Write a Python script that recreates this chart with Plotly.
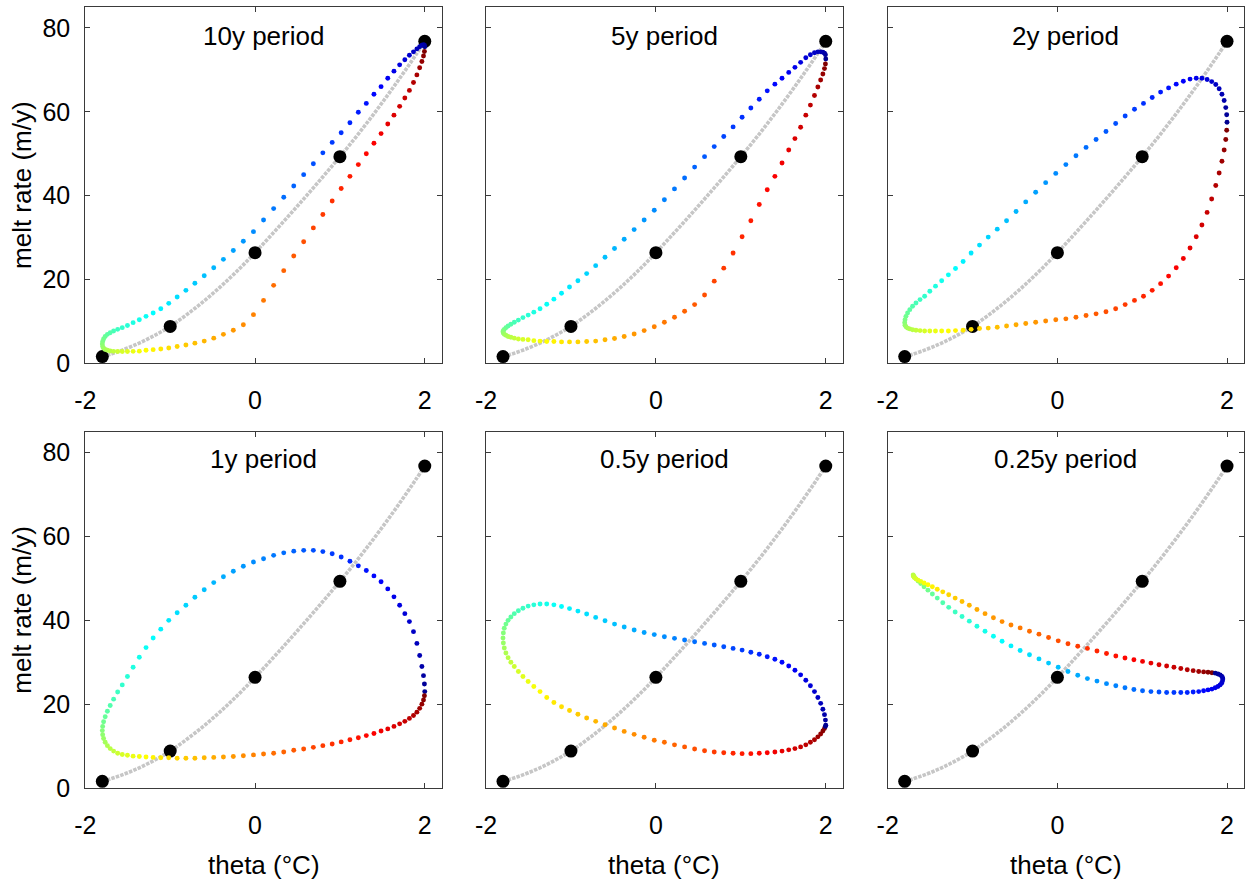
import plotly.graph_objects as go

# ---------------- data ----------------
periods = ["10y period", "5y period", "2y period", "1y period", "0.5y period", "0.25y period"]

# steady-state melt-rate curve (grey)
theta_ss = [-1.8, -1.7, -1.6, -1.5, -1.4, -1.3, -1.2, -1.1, -1.0, -0.9, -0.8, -0.7, -0.6,
            -0.5, -0.4, -0.3, -0.2, -0.1, 0.0, 0.1, 0.2, 0.3, 0.4, 0.5, 0.6, 0.7, 0.8,
            0.9, 1.0, 1.1, 1.2, 1.3, 1.4, 1.5, 1.6, 1.7, 1.8, 1.9, 2.0]
melt_ss = [1.6, 2.19, 2.88, 3.64, 4.50, 5.44, 6.48, 7.59, 8.8, 10.20, 11.68, 13.24, 14.88,
           16.6, 18.4, 20.28, 22.24, 24.28, 26.4, 28.57, 30.77, 33.0, 35.25, 37.53, 39.83,
           42.16, 44.51, 46.89, 49.3, 51.75, 54.27, 56.86, 59.51, 62.23, 65.01, 67.86,
           70.77, 73.75, 76.8]

# black reference points
theta_pts = [-1.8, -1.0, 0.0, 1.0, 2.0]
melt_pts = [1.6, 8.8, 26.4, 49.3, 76.8]

# theta along the loops (periods 10y ... 0.5y)
theta_loop = [2.000, 1.996, 1.985, 1.966, 1.940, 1.907, 1.867, 1.819, 1.765, 1.704,
              1.637, 1.564, 1.485, 1.401, 1.311, 1.217, 1.118, 1.015, 0.909, 0.799,
              0.687, 0.573, 0.456, 0.338, 0.219, 0.100, -0.019, -0.138, -0.256, -0.373,
              -0.487, -0.599, -0.709, -0.815, -0.918, -1.017, -1.111, -1.201, -1.285, -1.364,
              -1.437, -1.504, -1.565, -1.619, -1.667, -1.707, -1.740, -1.766, -1.785, -1.796,
              -1.800, -1.796, -1.785, -1.766, -1.740, -1.707, -1.667, -1.619, -1.565, -1.504,
              -1.437, -1.364, -1.285, -1.201, -1.111, -1.017, -0.918, -0.815, -0.709, -0.599,
              -0.487, -0.373, -0.256, -0.138, -0.019, 0.100, 0.219, 0.338, 0.456, 0.573,
              0.687, 0.799, 0.909, 1.015, 1.118, 1.217, 1.311, 1.401, 1.485, 1.564,
              1.637, 1.704, 1.765, 1.819, 1.867, 1.907, 1.940, 1.966, 1.985, 1.996]

# theta along the 0.25y loop (slightly damped)
theta_loop_q = [1.950, 1.946, 1.936, 1.918, 1.893, 1.861, 1.822, 1.776, 1.724, 1.666,
                1.601, 1.531, 1.455, 1.374, 1.288, 1.198, 1.103, 1.004, 0.902, 0.797,
                0.689, 0.579, 0.467, 0.354, 0.240, 0.125, 0.010, -0.104, -0.217, -0.329,
                -0.439, -0.547, -0.652, -0.754, -0.853, -0.948, -1.038, -1.124, -1.205, -1.281,
                -1.351, -1.416, -1.474, -1.526, -1.572, -1.611, -1.643, -1.668, -1.686, -1.696,
                -1.700, -1.696, -1.686, -1.668, -1.643, -1.611, -1.572, -1.526, -1.474, -1.416,
                -1.351, -1.281, -1.205, -1.124, -1.038, -0.948, -0.853, -0.754, -0.652, -0.547,
                -0.439, -0.329, -0.217, -0.104, 0.010, 0.125, 0.240, 0.354, 0.467, 0.579,
                0.689, 0.797, 0.902, 1.004, 1.103, 1.198, 1.288, 1.374, 1.455, 1.531,
                1.601, 1.666, 1.724, 1.776, 1.822, 1.861, 1.893, 1.918, 1.936, 1.946]

melt_10y = [75.5, 75.9, 76.0, 75.9, 75.5, 75.0, 74.3, 73.5, 72.4, 71.2,
            69.7, 68.0, 66.0, 64.2, 62.0, 59.9, 57.4, 55.0, 52.7, 50.2,
            47.6, 45.0, 42.3, 39.6, 36.9, 34.2, 31.4, 29.1, 26.9, 24.8,
            22.8, 20.9, 19.1, 17.4, 15.8, 14.3, 13.0, 12.0, 11.2, 10.4,
            9.7, 9.0, 8.5, 8.1, 7.7, 7.3, 6.9, 6.4, 5.8, 5.2,
            4.6, 4.0, 3.6, 3.3, 3.1, 2.95, 2.85, 2.8, 2.8, 2.8,
            2.85, 2.9, 3.1, 3.25, 3.4, 3.65, 4.0, 4.35, 4.8, 5.3,
            6.0, 6.9, 7.9, 9.2, 11.6, 15.0, 18.6, 22.1, 25.6, 29.0,
            32.3, 35.5, 38.7, 41.7, 44.6, 47.4, 50.0, 52.5, 54.8, 57.1,
            59.2, 61.3, 63.3, 65.1, 67.0, 68.8, 70.5, 72.0, 73.3, 74.4]

melt_5y = [72.6, 73.6, 74.0, 74.2, 74.3, 74.3, 74.1, 73.6, 72.9, 71.8,
           70.6, 69.4, 68.0, 66.6, 65.0, 63.0, 60.9, 58.7, 56.4, 54.1,
           51.7, 49.3, 46.8, 44.2, 41.6, 39.0, 36.5, 34.2, 31.9, 29.6,
           27.4, 25.3, 23.3, 21.4, 19.7, 18.2, 16.7, 15.3, 14.1, 13.0,
           12.2, 11.5, 10.9, 10.3, 9.8, 9.3, 8.9, 8.5, 8.1, 7.8,
           7.5, 7.2, 6.9, 6.7, 6.4, 6.2, 6.0, 5.8, 5.7, 5.6,
           5.4, 5.3, 5.2, 5.2, 5.1, 5.1, 5.1, 5.2, 5.3, 5.6,
           5.9, 6.4, 7.0, 7.8, 8.7, 9.8, 11.0, 12.4, 14.0, 16.3,
           19.6, 22.7, 26.3, 30.2, 34.0, 37.9, 41.4, 44.6, 47.8, 50.9,
           53.6, 56.3, 59.2, 61.6, 63.9, 65.9, 67.6, 69.0, 70.3, 71.4]

melt_2y = [57.5, 59.3, 61.0, 62.7, 64.2, 65.5, 66.5, 67.2, 67.7, 68.0,
           68.0, 67.8, 67.3, 66.6, 65.7, 64.7, 63.4, 62.0, 60.6, 59.0,
           57.2, 55.3, 53.4, 51.5, 49.5, 47.4, 45.3, 43.1, 40.8, 38.5,
           36.2, 34.0, 32.0, 30.1, 28.2, 26.3, 24.3, 22.6, 21.1, 19.7,
           18.4, 17.2, 16.0, 15.2, 14.4, 13.6, 12.8, 12.0, 11.2, 10.4,
           9.7, 9.1, 8.7, 8.4, 8.2, 8.0, 7.9, 7.8, 7.7, 7.7,
           7.7, 7.7, 7.7, 7.8, 7.9, 8.1, 8.3, 8.4, 8.6, 8.9,
           9.2, 9.5, 9.8, 10.1, 10.4, 10.6, 11.0, 11.4, 11.8, 12.3,
           13.0, 14.0, 15.0, 16.0, 17.4, 19.0, 20.8, 22.8, 25.0, 27.5,
           30.2, 33.0, 36.0, 39.2, 42.4, 45.4, 48.2, 50.9, 53.4, 55.6]

melt_1y = [23.0, 24.8, 26.8, 29.0, 31.6, 34.5, 37.3, 39.7, 41.6, 43.6,
           45.6, 47.5, 49.2, 50.6, 51.9, 53.0, 54.1, 55.1, 55.9, 56.4,
           56.7, 56.7, 56.5, 56.1, 55.5, 54.7, 53.9, 52.9, 51.7, 50.4,
           49.0, 47.3, 45.5, 43.6, 41.8, 40.0, 37.9, 35.8, 33.5, 31.2,
           28.8, 26.6, 24.6, 22.9, 21.2, 19.7, 18.3, 17.0, 15.8, 14.7,
           13.7, 12.7, 11.8, 10.9, 10.1, 9.4, 8.8, 8.3, 8.0, 7.8,
           7.6, 7.5, 7.4, 7.3, 7.2, 7.2, 7.1, 7.1, 7.1, 7.2,
           7.3, 7.4, 7.5, 7.7, 7.9, 8.1, 8.3, 8.6, 9.0, 9.3,
           9.7, 10.1, 10.5, 11.0, 11.5, 12.0, 12.5, 13.0, 13.6, 14.1,
           14.7, 15.3, 15.9, 16.6, 17.3, 18.1, 19.0, 20.0, 21.0, 22.0]

melt_05y = [15.0, 16.2, 17.5, 18.8, 20.2, 21.6, 23.0, 24.4, 25.7, 27.0,
            28.1, 29.1, 30.0, 30.7, 31.3, 31.9, 32.4, 32.9, 33.3, 33.7,
            34.1, 34.5, 34.9, 35.3, 35.7, 36.1, 36.6, 37.1, 37.7, 38.4,
            39.1, 39.9, 40.7, 41.5, 42.2, 42.8, 43.3, 43.7, 43.9, 43.9,
            43.7, 43.4, 42.9, 42.3, 41.6, 40.8, 40.0, 39.1, 38.1, 37.0,
            35.8, 34.6, 33.4, 32.2, 31.1, 30.0, 29.0, 27.8, 26.6, 25.4,
            24.2, 23.0, 21.6, 20.4, 19.4, 18.5, 17.6, 16.7, 15.9, 15.1,
            14.3, 13.5, 12.8, 12.1, 11.4, 10.9, 10.3, 9.8, 9.3, 8.9,
            8.6, 8.4, 8.3, 8.2, 8.2, 8.3, 8.4, 8.6, 8.8, 9.1,
            9.4, 9.8, 10.3, 10.9, 11.5, 12.2, 12.9, 13.6, 14.2, 14.7]

melt_025y = [26.0, 25.5, 25.0, 24.6, 24.2, 23.9, 23.6, 23.4, 23.2, 23.0,
             22.9, 22.8, 22.8, 22.8, 22.8, 22.9, 23.0, 23.2, 23.5, 23.9,
             24.4, 24.9, 25.5, 26.1, 26.9, 27.8, 28.8, 29.8, 30.8, 31.8,
             32.8, 33.9, 35.0, 36.2, 37.4, 38.6, 39.8, 40.9, 42.0, 43.1,
             44.2, 45.3, 46.3, 47.2, 48.0, 48.8, 49.4, 49.9, 50.3, 50.6,
             50.8, 50.5, 50.2, 49.9, 49.6, 49.3, 48.9, 48.5, 48.0, 47.4,
             46.8, 46.1, 45.3, 44.5, 43.6, 42.6, 41.6, 40.6, 39.7, 38.9,
             38.2, 37.4, 36.7, 35.9, 35.1, 34.4, 33.8, 33.3, 32.7, 32.1,
             31.5, 31.0, 30.6, 30.2, 29.8, 29.4, 29.1, 28.8, 28.5, 28.2,
             28.0, 27.8, 27.7, 27.6, 27.5, 27.4, 27.2, 27.0, 26.7, 26.4]

loops = [(theta_loop, melt_10y), (theta_loop, melt_5y), (theta_loop, melt_2y),
         (theta_loop, melt_1y), (theta_loop, melt_05y), (theta_loop_q, melt_025y)]

# phase (in samples) by which the colour cycle leads theta in each panel
phase_lead = [0, 0, 0, 0, 1, 5]

x_ticks = [-2, 0, 2]
x_ticktext = ["-2", "0", "2"]
y_ticks = [0, 20, 40, 60, 80]

# ---------------- styling ----------------
FONT = "Liberation Sans, Arial, sans-serif"
JET = [[0.0, "rgb(0,0,143)"], [0.125, "rgb(0,0,255)"], [0.375, "rgb(0,255,255)"],
       [0.625, "rgb(255,255,0)"], [0.875, "rgb(255,0,0)"], [1.0, "rgb(128,0,0)"]]
AXCOL = "#3a3a3a"
TICK_SIZE = 25
TEXT_SIZE = 26

x_domains = [[0.0003, 0.3078], [0.3460, 0.6538], [0.6926, 1.0]]
y_domains = [[0.5438, 1.0], [0.0, 0.4562]]

fig = go.Figure()
layout = dict(
    width=1245, height=879,
    margin=dict(l=85, r=1, t=7, b=91),
    paper_bgcolor="white", plot_bgcolor="white",
    showlegend=False,
    font=dict(family=FONT, size=TICK_SIZE, color="black"),
    annotations=[],
)

for i in range(6):
    row, col = divmod(i, 3)
    n = i + 1
    xa = "x" if n == 1 else f"x{n}"
    ya = "y" if n == 1 else f"y{n}"
    th, me = loops[i]
    npts = len(me)
    cidx = [(k + phase_lead[i]) % npts for k in range(npts)]

    fig.add_trace(go.Scatter(
        x=theta_ss, y=melt_ss, mode="lines", xaxis=xa, yaxis=ya,
        line=dict(color="#c6c6c6", width=3.6, dash="3.5px,1.2px", shape="spline"),
        hoverinfo="skip"))
    fig.add_trace(go.Scatter(
        x=theta_pts, y=melt_pts, mode="markers", xaxis=xa, yaxis=ya,
        marker=dict(color="black", size=13), hoverinfo="skip"))
    fig.add_trace(go.Scatter(
        x=th, y=me, mode="markers", xaxis=xa, yaxis=ya,
        marker=dict(color=cidx, colorscale=JET, cmin=0, cmax=npts - 1, size=4.9),
        hoverinfo="skip"))

    xkey = "xaxis" if n == 1 else f"xaxis{n}"
    ykey = "yaxis" if n == 1 else f"yaxis{n}"
    layout[xkey] = dict(
        domain=x_domains[col], anchor=ya, range=[-2, 2.2],
        tickmode="array", tickvals=x_ticks, ticktext=x_ticktext,
        ticks="inside", ticklen=5, tickwidth=1.2, tickcolor=AXCOL,
        showline=True, linecolor=AXCOL, linewidth=1.3, mirror="ticks",
        showgrid=False, zeroline=False, ticklabelstandoff=15,
        tickfont=dict(family=FONT, size=TICK_SIZE, color="black"))
    layout[ykey] = dict(
        domain=y_domains[row], anchor=xa, range=[0, 85],
        tickmode="array", tickvals=y_ticks,
        ticks="inside", ticklen=5, tickwidth=1.2, tickcolor=AXCOL,
        showline=True, linecolor=AXCOL, linewidth=1.3, mirror="ticks",
        showgrid=False, zeroline=False, showticklabels=(col == 0),
        ticklabelstandoff=9,
        tickfont=dict(family=FONT, size=TICK_SIZE, color="black"))

    xc = (x_domains[col][0] + x_domains[col][1]) / 2
    # panel title
    layout["annotations"].append(dict(
        text=periods[i], xref="paper", yref="paper", x=xc,
        y=0.9634 if row == 0 else 0.4207, xanchor="center", yanchor="middle",
        showarrow=False, font=dict(family=FONT, size=TEXT_SIZE, color="black")))
    # x-axis title on bottom row
    if row == 1:
        layout["annotations"].append(dict(
            text="theta (\u00b0C)", xref="paper", yref="paper", x=xc, y=-0.0986,
            xanchor="center", yanchor="middle", showarrow=False,
            font=dict(family=FONT, size=TEXT_SIZE, color="black")))
    # y-axis title on left column
    if col == 0:
        yc = (y_domains[row][0] + y_domains[row][1]) / 2
        layout["annotations"].append(dict(
            text="melt rate (m/y)", xref="paper", yref="paper", x=-0.0545, y=yc,
            xanchor="center", yanchor="middle", textangle=-90, showarrow=False,
            font=dict(family=FONT, size=TEXT_SIZE, color="black")))

fig.update_layout(**layout)
fig.write_html(
    "out.html",
    config={"displayModeBar": False},
    post_script="document.body.style.margin='0px';document.body.style.overflow='hidden';",
)
